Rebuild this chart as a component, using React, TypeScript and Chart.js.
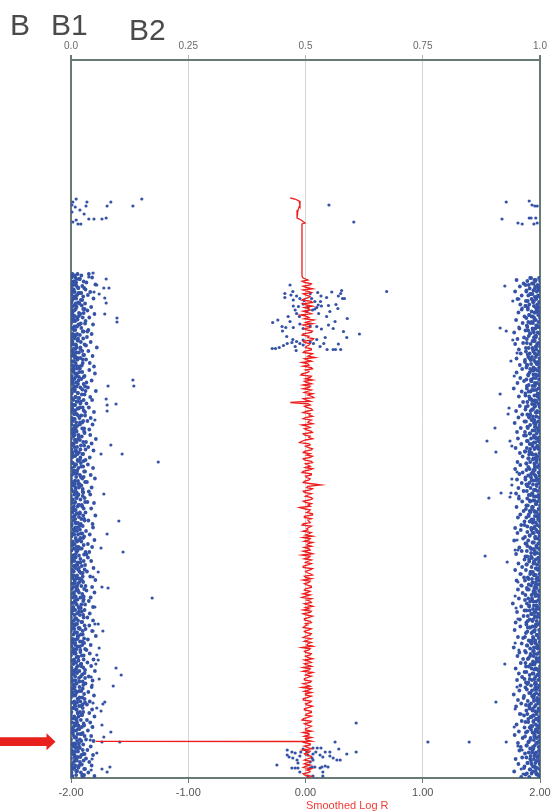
import React, { useEffect, useRef } from 'react';
import { Chart, registerables } from 'chart.js';

Chart.register(...registerables);

// ---- axis definitions ----
const POS_MAX = 143.6; // chromosome position (Mb), hidden vertical axis
const bafTicks = [0, 0.25, 0.5, 0.75, 1];
const bafTickLabels = ['0.0', '0.25', '0.5', '0.75', '1.0'];
const logRTicks = [-2, -1, 0, 1, 2];
const logRTickLabels = ['-2.00', '-1.00', '0.00', '1.00', '2.00'];
const panelLabels = ['B', 'B1', 'B2'];
const logRTitle = 'Smoothed Log R';

// ---- Smoothed Log R ----
// [position Mb, log R]
const logRTop: [number, number][] = [
  [27.6, -0.13], [27.8, -0.09], [28.2, -0.055], [29.0, -0.047], [30.0, -0.064], [31.0, -0.072],
  [31.6, -0.072], [32.0, -0.038], [32.6, -0.004], [32.8, -0.03], [43.2, -0.03], [43.6, -0.02],
];
// smoothing windows: series A from 44.00 Mb, series B from 44.25 Mb, both every 0.5 Mb
const logRWindowStep = 0.5;
const logRStartA = 44.0;
const logRStartB = 44.25;
const logRValuesA = [
  0.02, -0.01, 0.04, 0.01, -0.02, 0.05, 0.0, 0.03, -0.03, 0.06, 0.01, -0.01, 0.04, 0.02, -0.04, 0.03, 0.07, 0.0, -0.02, 0.04,
  0.01, 0.05, -0.03, 0.02, 0.06, -0.01, 0.03, 0.0, 0.05, -0.02, 0.04, 0.08, 0.01, -0.03, 0.03, 0.05, 0.0, 0.02, -0.04, 0.04,
  0.06, 0.01, -0.02, 0.03, 0.05, -0.01, 0.02, 0.07, 0.0, -0.13, 0.04, 0.01, 0.06, -0.02, 0.03, 0.0, 0.05, 0.02, -0.03, 0.04,
  0.01, 0.06, -0.01, 0.03, 0.0, -0.05, 0.04, 0.02, 0.05, -0.02, 0.01, 0.04, -0.01, 0.06, 0.02, 0.0, 0.03, -0.03, 0.05, 0.01,
  0.03, -0.02, 0.13, 0.01, 0.04, -0.01, 0.02, 0.05, 0.03, 0.0, 0.02, -0.05, 0.04, 0.01, 0.06, -0.01, 0.02, 0.04, -0.03, 0.03,
  0.02, 0.05, 0.0, -0.02, 0.03, 0.06, 0.01, -0.01, 0.04, 0.02, -0.03, 0.03, 0.05, 0.0, 0.02, -0.02, 0.04, 0.01, 0.06, 0.0,
  -0.02, 0.03, 0.01, 0.05, -0.01, 0.02, 0.04, -0.03, 0.01, 0.05, 0.02, 0.0, -0.02, 0.04, 0.01, 0.03, -0.01, 0.05, 0.02, -0.02,
  0.03, 0.0, 0.04, -0.02, 0.02, 0.05, 0.01, -0.03, 0.03, 0.0, 0.04, 0.02, -0.01, 0.05, 0.01, -0.02, 0.03, 0.06, 0.0, 0.02,
  -0.01, 0.04, 0.01, -0.03, 0.03, 0.05, 0.0, 0.02, -0.02, 0.04, 0.01, 0.03, -0.01, 0.05, 0.0, 0.02, -0.03, 0.04, 0.01, 0.03,
  0.0, -0.02, 0.03, 0.05, 0.01, -0.01, 0.04, 0.02, -0.02, 0.03, 0.0, 0.05, -0.01, 0.02, 0.04, -0.02, 0.01, 0.03, -0.01, 0.02,
];
const logRValuesB = [
  -0.03, 0.05, -0.02, 0.06, 0.02, -0.02, 0.04, -0.01, 0.05, -0.02, 0.06, 0.03, -0.02, 0.05, 0.01, -0.01, 0.03, 0.06, 0.02, -0.01,
  0.06, -0.02, 0.03, 0.07, -0.02, 0.04, 0.01, 0.05, -0.01, 0.06, 0.02, -0.01, 0.05, 0.02, -0.02, 0.06, 0.03, -0.03, 0.05, 0.0,
  -0.01, 0.05, 0.04, -0.02, 0.02, 0.06, 0.05, -0.02, 0.04, 0.02, -0.01, 0.05, 0.01, 0.04, 0.06, -0.02, 0.03, 0.06, 0.02, -0.01,
  0.05, -0.02, 0.04, 0.06, -0.03, 0.03, 0.0, 0.06, -0.01, 0.04, 0.06, -0.02, 0.05, 0.0, 0.04, 0.06, -0.02, 0.05, 0.0, 0.04,
  -0.01, 0.05, 0.02, 0.06, -0.02, 0.05, 0.0, 0.06, -0.02, 0.05, 0.04, -0.01, 0.03, 0.06, -0.01, 0.05, 0.03, -0.02, 0.05, 0.01,
  -0.02, 0.03, 0.06, 0.04, -0.01, 0.02, 0.05, 0.03, -0.02, 0.06, 0.04, -0.01, 0.02, 0.05, -0.02, 0.06, 0.0, 0.04, -0.01, 0.05,
  0.04, -0.01, 0.05, 0.0, 0.04, -0.02, 0.0, 0.05, 0.04, -0.01, 0.06, 0.03, 0.05, -0.02, 0.06, -0.01, 0.04, 0.0, -0.01, 0.05,
  -0.01, 0.05, 0.0, 0.05, -0.01, 0.02, 0.06, 0.04, -0.01, 0.05, 0.0, 0.06, 0.03, -0.01, 0.05, 0.04, -0.02, 0.02, 0.05, -0.01,
  0.05, -0.02, 0.04, 0.05, -0.01, 0.0, 0.05, -0.02, 0.05, 0.0, 0.06, -0.01, 0.05, 0.01, 0.05, -0.02, 0.05, -0.01, 0.05, 0.0,
  0.05, 0.03, -0.01, 0.0, 0.05, 0.04, -0.01, 0.05, 0.04, -0.01, 0.05, 0.02, 0.04, -0.01, 0.0, 0.05, 0.04, -0.02, 0.05, 0.0,
];
// deletion spike near the arrow
const logRSpike: [number, number][] = [
  [136.26, 0.0], [136.28, -1.79], [136.3, -0.02], [136.32, -0.55], [136.34, 0.01],
];

// ---- B allele frequency ----
// [position Mb, BAF]
const bafUpper: [number, number][] = [
  [27.8, 0.011], [28.4, 0.085], [27.8, 0.151], [28.4, 0.034], [29.2, 0.032], [29.2, 0.077], [29.2, 0.132],
  [30.0, 0.019], [30.8, 0.028], [29.4, 0.009], [28.4, 0.004], [31.8, 0.038], [31.8, 0.049], [31.8, 0.066],
  [31.6, 0.075], [32.0, 0.011], [32.4, 0.004], [32.8, 0.015], [32.8, 0.021], [29.0, 0.002], [30.4, 0.002],
  [29.0, 0.55], [32.4, 0.603],
  [28.4, 0.928], [28.2, 0.977], [29.0, 0.983], [29.2, 0.989], [29.2, 0.994], [31.8, 0.919], [31.6, 0.977],
  [31.6, 0.981], [31.6, 0.991], [32.6, 0.953], [32.8, 0.962], [32.8, 0.987], [32.6, 0.994],
];
const bafHetUpper: [number, number][] = [
  [45.0, 0.467], [46.3, 0.473], [46.7, 0.456], [47.5, 0.456], [47.0, 0.469], [48.0, 0.474], [47.2, 0.481],
  [47.7, 0.488], [48.1, 0.497], [46.7, 0.51], [46.5, 0.526], [47.2, 0.533], [47.5, 0.545], [46.4, 0.556],
  [46.1, 0.577], [46.7, 0.575], [47.2, 0.57], [47.7, 0.579], [47.7, 0.583], [46.3, 0.673], [48.9, 0.565],
  [49.7, 0.569], [49.1, 0.549], [48.3, 0.532], [49.0, 0.527], [49.5, 0.524], [49.2, 0.534], [49.8, 0.52],
  [48.8, 0.495], [49.3, 0.485], [49.2, 0.474], [50.0, 0.478], [50.7, 0.481], [51.3, 0.487], [50.3, 0.503],
  [50.0, 0.515], [50.7, 0.528], [51.3, 0.545], [52.3, 0.563], [51.7, 0.589], [51.3, 0.463], [52.0, 0.441],
  [52.5, 0.43], [53.3, 0.45], [53.5, 0.458], [54.2, 0.451], [53.5, 0.474], [52.8, 0.488], [53.7, 0.495],
  [53.2, 0.51], [53.3, 0.524], [53.8, 0.534], [53.0, 0.549], [54.3, 0.581], [54.8, 0.615], [55.5, 0.588],
  [55.5, 0.542], [55.9, 0.524], [56.4, 0.51], [56.0, 0.495], [56.3, 0.481], [55.9, 0.473], [56.7, 0.461],
  [57.1, 0.453], [57.5, 0.444], [57.7, 0.436], [57.7, 0.429], [57.3, 0.478], [58.1, 0.48], [57.0, 0.495],
  [56.7, 0.517], [57.3, 0.531], [56.7, 0.539], [57.9, 0.546], [57.9, 0.559], [57.9, 0.564], [57.9, 0.575],
  [56.8, 0.57], [56.7, 0.488], [56.5, 0.471], [47.7, 0.513], [48.3, 0.52], [49.3, 0.506], [50.3, 0.552],
  [52.3, 0.467], [53.7, 0.559], [55.3, 0.46],
];
const bafHetLower: [number, number][] = [
  [132.6, 0.608], [136.4, 0.563], [136.4, 0.761], [136.4, 0.849], [138.4, 0.608], [138.8, 0.588],
  [137.8, 0.571], [138.4, 0.552], [137.6, 0.533], [137.6, 0.525], [137.6, 0.516], [138.4, 0.542], [138.4, 0.522],
  [138.8, 0.516], [138.0, 0.461], [138.4, 0.471], [138.6, 0.478], [139.4, 0.465], [139.6, 0.473], [140.0, 0.482],
  [138.4, 0.49], [137.8, 0.495], [138.4, 0.503], [139.0, 0.505], [139.6, 0.514], [140.0, 0.516], [140.4, 0.51],
  [139.0, 0.531], [139.4, 0.537], [139.2, 0.552], [139.6, 0.559], [140.0, 0.567], [140.0, 0.574], [141.6, 0.471],
  [141.6, 0.478], [141.6, 0.484], [141.6, 0.51], [141.4, 0.514], [141.4, 0.52], [141.6, 0.531], [141.4, 0.535],
  [141.2, 0.542], [141.4, 0.548], [142.4, 0.537], [143.2, 0.537], [143.2, 0.516], [143.2, 0.505], [142.4, 0.488],
  [139.0, 0.461], [139.2, 0.488], [140.6, 0.484], [141.0, 0.439],
];
const bafLowOutliers: [number, number][] = [
  [42.6, 0.047], [43.8, 0.075], [43.4, 0.038], [45.0, 0.055], [45.6, 0.07], [45.6, 0.081], [46.4, 0.049],
  [46.8, 0.06], [47.6, 0.072], [48.6, 0.075], [50.8, 0.072], [51.6, 0.098], [52.4, 0.098], [64.0, 0.132],
  [65.2, 0.134], [65.2, 0.079], [67.8, 0.075], [68.8, 0.096], [69.0, 0.077], [70.2, 0.077], [72.0, 0.051],
  [77.0, 0.085], [78.8, 0.109], [78.8, 0.064], [80.4, 0.186], [86.8, 0.07], [92.2, 0.102], [94.8, 0.077],
  [98.4, 0.111], [97.6, 0.064], [105.4, 0.066], [105.6, 0.079], [107.6, 0.173], [102.4, 0.058], [103.4, 0.047],
  [109.4, 0.051], [112.8, 0.058], [112.8, 0.051], [114.2, 0.068], [114.2, 0.047], [117.6, 0.06], [119.0, 0.055],
  [120.0, 0.058], [120.8, 0.053], [121.6, 0.096], [123.0, 0.107], [123.8, 0.06], [123.4, 0.043], [125.2, 0.09],
  [125.0, 0.045], [128.4, 0.072], [128.8, 0.068], [129.6, 0.055], [130.2, 0.064], [128.6, 0.047], [133.0, 0.066],
  [134.4, 0.085], [135.4, 0.07], [133.4, 0.045], [136.0, 0.041], [136.4, 0.066], [136.4, 0.104], [138.6, 0.055],
  [139.8, 0.045], [141.4, 0.083], [141.8, 0.066], [142.4, 0.077], [142.0, 0.043], [143.4, 0.026],
];
const bafHighOutliers: [number, number][] = [
  [45.2, 0.925], [48.2, 0.942], [47.8, 0.955], [49.6, 0.962], [53.6, 0.915], [54.2, 0.928], [56.0, 0.942],
  [53.4, 0.955], [60.2, 0.938], [58.6, 0.951], [63.2, 0.945], [66.8, 0.915], [69.6, 0.934], [70.8, 0.932],
  [73.6, 0.904], [76.2, 0.887], [78.4, 0.906], [76.2, 0.936], [77.2, 0.94], [82.4, 0.951], [83.8, 0.94],
  [85.0, 0.94], [86.6, 0.938], [86.6, 0.917], [87.6, 0.891], [87.4, 0.936], [87.2, 0.955], [96.0, 0.951],
  [98.0, 0.947], [98.0, 0.953], [99.2, 0.883], [100.4, 0.93], [102.8, 0.96], [104.4, 0.953], [105.2, 0.962],
  [107.2, 0.947], [109.6, 0.949], [111.8, 0.953], [116.6, 0.947], [118.0, 0.955], [120.8, 0.925], [123.4, 0.962],
  [125.4, 0.951], [128.4, 0.906], [129.8, 0.947], [130.8, 0.96], [133.4, 0.945], [136.4, 0.928], [137.2, 0.953],
  [138.0, 0.962], [141.8, 0.96], [142.8, 0.964],
];

// homozygous AA band: probe positions and BAF (per-mille) of three neighbouring probes at each
const bandLowPos = [
  42.8, 43.1, 43.5, 43.8, 44.3, 44.5, 44.9, 45.2, 45.6, 45.9, 46.4, 46.6, 47.0, 47.3, 47.7, 48.0, 48.5, 48.7,
  49.1, 49.4, 49.8, 50.1, 50.6, 50.8, 51.2, 51.5, 51.9, 52.2, 52.7, 52.9, 53.3, 53.6, 54.0, 54.3, 54.8, 55.0,
  55.4, 55.7, 56.1, 56.4, 56.9, 57.1, 57.5, 57.8, 58.2, 58.5, 59.0, 59.2, 59.6, 59.9, 60.3, 60.6, 61.1, 61.3,
  61.7, 62.0, 62.4, 62.7, 63.2, 63.4, 63.8, 64.1, 64.5, 64.8, 65.3, 65.5, 65.9, 66.2, 66.6, 66.9, 67.4, 67.6,
  68.0, 68.3, 68.7, 69.0, 69.5, 69.7, 70.1, 70.4, 70.8, 71.1, 71.6, 71.8, 72.2, 72.5, 72.9, 73.2, 73.7, 73.9,
  74.3, 74.6, 75.0, 75.3, 75.8, 76.0, 76.4, 76.7, 77.1, 77.4, 77.9, 78.1, 78.5, 78.8, 79.2, 79.5, 80.0, 80.2,
  80.6, 80.9, 81.3, 81.6, 82.1, 82.3, 82.7, 83.0, 83.4, 83.7, 84.2, 84.4, 84.8, 85.1, 85.5, 85.8, 86.3, 86.5,
  86.9, 87.2, 87.6, 87.9, 88.4, 88.6, 89.0, 89.3, 89.7, 90.0, 90.5, 90.7, 91.1, 91.4, 91.8, 92.1, 92.6, 92.8,
  93.2, 93.5, 93.9, 94.2, 94.7, 94.9, 95.3, 95.6, 96.0, 96.3, 96.8, 97.0, 97.4, 97.7, 98.1, 98.4, 98.9, 99.1,
  99.5, 99.8, 100.2, 100.5, 101.0, 101.2, 101.6, 101.9, 102.3, 102.6, 103.1, 103.3, 103.7, 104.0, 104.4, 104.7, 105.2, 105.4,
  105.8, 106.1, 106.5, 106.8, 107.3, 107.5, 107.9, 108.2, 108.6, 108.9, 109.4, 109.6, 110.0, 110.3, 110.7, 111.0, 111.5, 111.7,
  112.1, 112.4, 112.8, 113.1, 113.6, 113.8, 114.2, 114.5, 114.9, 115.2, 115.7, 115.9, 116.3, 116.6, 117.0, 117.3, 117.8, 118.0,
  118.4, 118.7, 119.1, 119.4, 119.9, 120.1, 120.5, 120.8, 121.2, 121.5, 122.0, 122.2, 122.6, 122.9, 123.3, 123.6, 124.1, 124.3,
  124.7, 125.0, 125.4, 125.7, 126.2, 126.4, 126.8, 127.1, 127.5, 127.8, 128.3, 128.5, 128.9, 129.2, 129.6, 129.9, 130.4, 130.6,
  131.0, 131.3, 131.7, 132.0, 132.5, 132.7, 133.1, 133.4, 133.8, 134.1, 134.6, 134.8, 135.2, 135.5, 135.9, 136.2, 136.7, 136.9,
  137.3, 137.6, 138.0, 138.3, 138.8, 139.0, 139.4, 139.7, 140.1, 140.4, 140.9, 141.1, 141.5, 141.8, 142.2, 142.5, 143.0, 143.2,
];
const bandLowBafA = [
  3, 8, 1, 12, 5, 0, 9, 2, 15, 6, 4, 22, 1, 7, 11, 3, 0, 18,
  6, 2, 10, 4, 27, 1, 8, 13, 3, 5, 0, 16, 7, 2, 9, 35, 4, 11,
  1, 7, 14, 3, 6, 0, 20, 9, 2, 12, 5, 1, 8, 25, 4, 10, 3, 6,
  13, 0, 5, 9, 2, 17, 7, 1, 11, 4, 30, 6, 3, 8, 14, 0, 10, 2,
  5, 12, 1, 7, 19, 3, 9, 0, 6, 15, 2, 8, 4, 24, 1, 11, 6, 3,
  9, 2, 16, 5, 0, 8, 12, 3, 28, 7, 1, 10, 4, 14, 6, 2, 19, 0,
  4, 11, 7, 1, 13, 5, 9, 2, 21, 0, 8, 3, 15, 6, 10, 1, 5, 26,
  7, 0, 12, 4, 9, 2, 17, 6, 1, 10, 3, 14, 8, 0, 22, 5, 11, 2,
  1, 9, 5, 13, 3, 7, 0, 20, 11, 4, 8, 2, 16, 6, 1, 12, 33, 4,
  10, 3, 7, 1, 14, 5, 9, 2, 18, 0, 6, 11, 4, 23, 8, 2, 13, 5,
  2, 15, 6, 0, 10, 4, 27, 8, 1, 12, 5, 3, 9, 17, 2, 7, 0, 11,
  6, 1, 13, 8, 3, 19, 0, 10, 5, 14, 2, 7, 24, 4, 9, 1, 12, 6,
  3, 10, 0, 16, 7, 2, 11, 5, 21, 1, 8, 4, 13, 0, 9, 30, 6, 2,
  12, 5, 8, 1, 18, 3, 10, 6, 0, 14, 7, 2, 25, 9, 4, 11, 1, 15,
  0, 7, 4, 12, 2, 9, 16, 5, 1, 11, 3, 20, 6, 8, 0, 13, 4, 10,
  5, 14, 1, 9, 3, 22, 7, 0, 12, 6, 2, 17, 8, 4, 11, 1, 28, 3,
];
const bandLowBafB = [
  14, 22, 9, 18, 27, 11, 6, 24, 16, 31, 8, 19, 13, 26, 5, 21, 15, 10,
  23, 12, 29, 7, 17, 20, 4, 25, 14, 9, 30, 18, 11, 22, 6, 27, 13, 19,
  8, 26, 15, 21, 10, 32, 12, 5, 24, 17, 28, 9, 20, 14, 7, 25, 11, 18,
  19, 6, 24, 13, 29, 10, 22, 16, 4, 27, 12, 20, 8, 31, 15, 23, 9, 17,
  27, 14, 20, 9, 25, 16, 5, 30, 12, 22, 18, 7, 26, 11, 19, 13, 28, 10,
  12, 29, 8, 23, 15, 19, 26, 6, 21, 13, 31, 10, 17, 24, 9, 20, 14, 27,
  21, 9, 26, 16, 6, 28, 13, 19, 11, 24, 15, 30, 7, 22, 17, 10, 25, 12,
  16, 25, 11, 20, 30, 8, 23, 14, 27, 6, 19, 12, 26, 17, 9, 29, 15, 21,
  25, 13, 19, 7, 24, 15, 28, 10, 18, 22, 5, 27, 12, 20, 14, 31, 9, 17,
  9, 20, 27, 14, 11, 23, 17, 29, 6, 21, 13, 25, 18, 8, 26, 15, 22, 11,
  28, 11, 17, 24, 8, 20, 14, 26, 10, 30, 16, 21, 6, 23, 13, 19, 27, 9,
  15, 24, 10, 29, 18, 7, 25, 13, 21, 16, 28, 11, 19, 9, 24, 14, 30, 20,
  20, 7, 23, 12, 27, 16, 9, 22, 14, 26, 11, 18, 29, 5, 21, 17, 10, 25,
  11, 26, 18, 6, 22, 13, 28, 9, 24, 15, 20, 30, 8, 17, 25, 12, 19, 14,
  24, 16, 8, 21, 13, 27, 10, 23, 18, 6, 25, 14, 29, 11, 19, 22, 7, 26,
  17, 10, 25, 15, 29, 8, 20, 12, 27, 19, 23, 9, 16, 28, 13, 21, 11, 24,
];
const bandLowBafC = [
  38, 2, 45, 19, 7, 33, 52, 12, 28, 4, 41, 16, 36, 9, 48, 24, 1, 30,
  10, 43, 26, 35, 3, 50, 17, 39, 6, 31, 21, 47, 13, 2, 37, 25, 44, 8,
  34, 15, 1, 42, 29, 11, 55, 20, 37, 5, 26, 46, 14, 32, 3, 40, 23, 49,
  6, 39, 18, 51, 12, 27, 3, 44, 33, 15, 8, 36, 24, 53, 2, 29, 41, 17,
  45, 21, 33, 4, 38, 14, 27, 49, 9, 30, 42, 1, 35, 19, 46, 7, 24, 39,
  28, 5, 41, 17, 53, 10, 32, 44, 2, 37, 20, 48, 12, 26, 3, 40, 31, 15,
  3, 36, 22, 47, 13, 30, 6, 42, 27, 51, 9, 34, 18, 1, 44, 25, 38, 11,
  41, 14, 29, 2, 35, 49, 16, 24, 43, 8, 31, 19, 52, 5, 28, 37, 10, 46,
  18, 47, 7, 32, 21, 40, 1, 26, 50, 13, 36, 4, 45, 23, 11, 39, 28, 6,
  36, 2, 43, 20, 30, 9, 48, 15, 34, 25, 3, 41, 12, 52, 18, 7, 31, 45,
  13, 33, 50, 6, 27, 42, 11, 38, 4, 22, 47, 17, 29, 1, 40, 26, 35, 10,
  47, 22, 3, 39, 16, 31, 45, 8, 25, 53, 14, 36, 2, 28, 42, 19, 6, 33,
  9, 40, 27, 14, 48, 4, 35, 21, 43, 12, 30, 51, 7, 24, 38, 1, 46, 18,
  31, 6, 44, 25, 10, 37, 2, 49, 18, 29, 40, 13, 34, 21, 5, 45, 26, 39,
  22, 50, 11, 34, 41, 7, 28, 46, 15, 36, 4, 23, 43, 10, 32, 48, 17, 2,
  42, 19, 35, 5, 26, 47, 14, 32, 8, 39, 21, 44, 1, 30, 12, 37, 24, 50,
];
// homozygous BB band: probe positions and BAF (per-mille) of three neighbouring probes at each
const bandHighPos = [
  43.6, 44.0, 44.2, 44.7, 45.0, 45.3, 45.7, 46.1, 46.3, 46.8, 47.1, 47.4, 47.8, 48.2, 48.4, 48.9, 49.2, 49.5,
  49.9, 50.3, 50.5, 51.0, 51.3, 51.6, 52.0, 52.4, 52.6, 53.1, 53.4, 53.7, 54.1, 54.5, 54.7, 55.2, 55.5, 55.8,
  56.2, 56.6, 56.8, 57.3, 57.6, 57.9, 58.3, 58.7, 58.9, 59.4, 59.7, 60.0, 60.4, 60.8, 61.0, 61.5, 61.8, 62.1,
  62.5, 62.9, 63.1, 63.6, 63.9, 64.2, 64.6, 65.0, 65.2, 65.7, 66.0, 66.3, 66.7, 67.1, 67.3, 67.8, 68.1, 68.4,
  68.8, 69.2, 69.4, 69.9, 70.2, 70.5, 70.9, 71.3, 71.5, 72.0, 72.3, 72.6, 73.0, 73.4, 73.6, 74.1, 74.4, 74.7,
  75.1, 75.5, 75.7, 76.2, 76.5, 76.8, 77.2, 77.6, 77.8, 78.3, 78.6, 78.9, 79.3, 79.7, 79.9, 80.4, 80.7, 81.0,
  81.4, 81.8, 82.0, 82.5, 82.8, 83.1, 83.5, 83.9, 84.1, 84.6, 84.9, 85.2, 85.6, 86.0, 86.2, 86.7, 87.0, 87.3,
  87.7, 88.1, 88.3, 88.8, 89.1, 89.4, 89.8, 90.2, 90.4, 90.9, 91.2, 91.5, 91.9, 92.3, 92.5, 93.0, 93.3, 93.6,
  94.0, 94.4, 94.6, 95.1, 95.4, 95.7, 96.1, 96.5, 96.7, 97.2, 97.5, 97.8, 98.2, 98.6, 98.8, 99.3, 99.6, 99.9,
  100.3, 100.7, 100.9, 101.4, 101.7, 102.0, 102.4, 102.8, 103.0, 103.5, 103.8, 104.1, 104.5, 104.9, 105.1, 105.6, 105.9, 106.2,
  106.6, 107.0, 107.2, 107.7, 108.0, 108.3, 108.7, 109.1, 109.3, 109.8, 110.1, 110.4, 110.8, 111.2, 111.4, 111.9, 112.2, 112.5,
  112.9, 113.3, 113.5, 114.0, 114.3, 114.6, 115.0, 115.4, 115.6, 116.1, 116.4, 116.7, 117.1, 117.5, 117.7, 118.2, 118.5, 118.8,
  119.2, 119.6, 119.8, 120.3, 120.6, 120.9, 121.3, 121.7, 121.9, 122.4, 122.7, 123.0, 123.4, 123.8, 124.0, 124.5, 124.8, 125.1,
  125.5, 125.9, 126.1, 126.6, 126.9, 127.2, 127.6, 128.0, 128.2, 128.7, 129.0, 129.3, 129.7, 130.1, 130.3, 130.8, 131.1, 131.4,
  131.8, 132.2, 132.4, 132.9, 133.2, 133.5, 133.9, 134.3, 134.5, 135.0, 135.3, 135.6, 136.0, 136.4, 136.6, 137.1, 137.4, 137.7,
  138.1, 138.5, 138.7, 139.2, 139.5, 139.8, 140.2, 140.6, 140.8, 141.3, 141.6, 141.9, 142.3, 142.7, 142.9, 143.4,
];
const bandHighBafA = [
  998, 991, 1000, 986, 995, 997, 989, 999, 993, 980, 996, 1000, 992, 987, 998, 994, 969, 997,
  993, 999, 988, 996, 982, 1000, 991, 997, 985, 994, 998, 990, 975, 995, 999, 992, 987, 1000,
  989, 997, 994, 1000, 984, 992, 998, 978, 995, 991, 999, 987, 996, 993, 972, 998, 990, 995,
  1000, 986, 996, 991, 998, 981, 994, 999, 989, 997, 992, 976, 1000, 988, 995, 998, 983, 993,
  997, 990, 999, 985, 994, 1000, 979, 992, 998, 988, 996, 991, 999, 974, 995, 989, 1000, 993,
  987, 998, 992, 996, 1000, 983, 994, 990, 997, 977, 999, 991, 995, 986, 1000, 993, 988, 998,
  994, 1000, 989, 997, 981, 999, 992, 996, 986, 998, 971, 993, 1000, 990, 995, 984, 997, 991,
  999, 988, 995, 992, 1000, 985, 997, 978, 993, 998, 989, 996, 982, 1000, 991, 994, 999, 987,
  992, 997, 984, 999, 990, 995, 1000, 987, 996, 973, 993, 998, 989, 994, 1000, 981, 997, 991,
  998, 986, 994, 1000, 991, 996, 980, 999, 988, 995, 992, 997, 984, 1000, 990, 993, 976, 998,
  990, 995, 999, 983, 997, 992, 1000, 987, 994, 998, 978, 991, 996, 989, 999, 985, 993, 1000,
  996, 991, 974, 998, 988, 1000, 993, 985, 997, 990, 999, 982, 995, 992, 1000, 987, 998, 994,
  986, 999, 993, 997, 989, 980, 1000, 991, 995, 998, 984, 994, 1000, 988, 996, 970, 992, 999,
  995, 989, 1000, 992, 998, 983, 994, 999, 987, 996, 991, 977, 997, 1000, 990, 993, 985, 998,
  991, 997, 986, 1000, 994, 999, 981, 990, 996, 988, 998, 993, 1000, 975, 995, 989, 997, 984,
  998, 992, 1000, 988, 995, 979, 997, 990, 999, 985, 994, 1000, 991, 982, 996, 998,
];
const bandHighBafB = [
  981, 988, 973, 983, 969, 990, 978, 986, 971, 979, 975, 989, 982, 970, 985, 977, 987, 974,
  974, 982, 990, 977, 985, 971, 988, 975, 980, 992, 973, 984, 969, 987, 979, 976, 991, 972,
  987, 972, 980, 992, 976, 985, 970, 989, 974, 983, 978, 968, 990, 981, 973, 986, 979, 984,
  978, 991, 975, 986, 971, 982, 989, 976, 984, 972, 987, 980, 969, 993, 977, 981, 988, 973,
  983, 974, 988, 969, 980, 991, 973, 985, 977, 982, 970, 987, 979, 989, 974, 984, 968, 978,
  970, 987, 981, 974, 990, 978, 984, 972, 988, 968, 982, 977, 992, 975, 985, 979, 971, 989,
  989, 978, 971, 984, 987, 975, 981, 969, 992, 977, 985, 973, 980, 990, 972, 983, 976, 987,
  973, 985, 979, 991, 974, 983, 970, 988, 980, 976, 993, 971, 986, 978, 984, 967, 989, 981,
  982, 973, 987, 978, 968, 990, 975, 984, 971, 992, 979, 986, 972, 981, 989, 969, 983, 977,
  977, 989, 972, 982, 992, 970, 985, 979, 987, 974, 983, 968, 991, 976, 981, 988, 973, 986,
  986, 969, 990, 975, 983, 979, 972, 992, 977, 985, 967, 988, 981, 974, 989, 978, 984, 971,
  971, 984, 978, 989, 973, 982, 993, 968, 986, 976, 980, 991, 972, 987, 979, 985, 970, 988,
  979, 992, 974, 985, 969, 988, 976, 982, 994, 971, 986, 978, 990, 967, 983, 975, 989, 981,
  990, 972, 983, 977, 988, 966, 986, 993, 974, 981, 970, 989, 978, 984, 991, 973, 987, 980,
  975, 986, 969, 991, 981, 978, 994, 973, 984, 989, 968, 980, 987, 976, 992, 971, 985, 979,
  984, 976, 989, 980, 971, 987, 992, 974, 982, 967, 990, 979, 985, 972, 993, 977,
];
const bandHighBafC = [
  979, 950, 990, 965, 976, 957, 996, 971, 947, 984, 961, 993, 952, 974, 986, 958, 969, 991,
  961, 995, 954, 977, 967, 988, 949, 982, 963, 972, 994, 956, 985, 945, 979, 990, 966, 952,
  984, 964, 947, 991, 970, 955, 986, 959, 993, 975, 950, 980, 968, 996, 957, 971, 962, 987,
  950, 975, 994, 958, 981, 966, 952, 989, 972, 944, 983, 961, 995, 969, 955, 978, 991, 964,
  988, 957, 970, 983, 949, 993, 962, 976, 954, 985, 967, 946, 990, 973, 959, 996, 951, 979,
  966, 991, 953, 972, 987, 960, 995, 948, 979, 968, 957, 984, 963, 976, 992, 952, 971, 958,
  975, 947, 986, 963, 956, 990, 969, 951, 982, 961, 993, 974, 954, 987, 965, 949, 980, 995,
  955, 978, 962, 992, 971, 950, 983, 965, 989, 958, 976, 953, 996, 967, 985, 960, 973, 947,
  959, 995, 952, 978, 990, 964, 945, 985, 969, 993, 956, 981, 961, 988, 949, 973, 996, 967,
  987, 954, 971, 962, 994, 947, 980, 958, 991, 966, 976, 950, 984, 995, 960, 972, 953, 989,
  963, 982, 996, 955, 968, 986, 942, 977, 960, 992, 971, 951, 983, 965, 994, 957, 974, 948,
  991, 958, 979, 946, 985, 970, 994, 953, 964, 982, 989, 961, 973, 944, 995, 968, 956, 980,
  952, 976, 964, 993, 959, 983, 970, 948, 988, 967, 955, 996, 962, 978, 951, 990, 973, 958,
  969, 992, 956, 980, 944, 987, 965, 953, 995, 960, 977, 949, 985, 971, 994, 957, 966, 982,
  994, 961, 975, 950, 984, 967, 991, 955, 970, 946, 988, 963, 979, 996, 953, 972, 959, 986,
  956, 983, 968, 995, 962, 948, 981, 973, 954, 989, 966, 978, 945, 992, 969, 960,
];

const AXIS_COLOR = '#677a74';
const GRID_COLOR = '#d4d4d4';
const POINT_COLOR = '#3553a6';
const FONT = "'Liberation Sans', Arial, sans-serif";

export default function App() {
  const ref = useRef<HTMLCanvasElement | null>(null);

  useEffect(() => {
    const canvas = ref.current;
    if (!canvas) return;
    const toXY = (pairs: [number, number][]) => pairs.map(([p, v]) => ({ x: v, y: p }));
    const band = (pos: number[], permille: number[]) =>
      pos.map((p, i) => ({ x: permille[i] / 1000, y: p }));
    const bandPoints = [
      ...band(bandLowPos, bandLowBafA),
      ...band(bandLowPos, bandLowBafB),
      ...band(bandLowPos, bandLowBafC),
      ...band(bandHighPos, bandHighBafA),
      ...band(bandHighPos, bandHighBafB),
      ...band(bandHighPos, bandHighBafC),
    ];
    const otherPoints = [
      ...toXY(bafUpper),
      ...toXY(bafHetUpper),
      ...toXY(bafHetLower),
      ...toXY(bafLowOutliers),
      ...toXY(bafHighOutliers),
    ];
    const windowsA: [number, number][] = logRValuesA.map((v, i) => [logRStartA + i * logRWindowStep, v]);
    const windowsB: [number, number][] = logRValuesB.map((v, i) => [logRStartB + i * logRWindowStep, v]);
    const logRAll = [...logRTop, ...windowsA, ...windowsB, ...logRSpike]
      .sort((a, b) => a[0] - b[0])
      .map(([p, v]) => ({ x: v, y: p }));

    const isEdge = (c: any) => c.tick && (c.tick.value === 0 || c.tick.value === 1);

    const chart = new Chart(canvas, {
      type: 'scatter',
      data: {
        datasets: [
          {
            label: logRTitle,
            data: logRAll,
            xAxisID: 'xLogR',
            yAxisID: 'y',
            showLine: true,
            borderColor: '#ee1c1c',
            borderWidth: 1.3,
            pointRadius: 0,
            order: 0,
          } as any,
          {
            label: 'B Allele Freq',
            data: otherPoints,
            xAxisID: 'xBaf',
            yAxisID: 'y',
            showLine: false,
            backgroundColor: POINT_COLOR,
            borderWidth: 0,
            pointRadius: 1.6,
            order: 1,
          } as any,
          {
            label: 'B Allele Freq (homozygous)',
            data: bandPoints,
            xAxisID: 'xBaf',
            yAxisID: 'y',
            showLine: false,
            backgroundColor: POINT_COLOR,
            borderWidth: 0,
            pointRadius: 1.9,
            order: 2,
          } as any,
        ],
      },
      options: {
        animation: false,
        responsive: false,
        maintainAspectRatio: false,
        layout: { padding: { left: 71, right: 12, top: 0, bottom: 0 } },
        plugins: { legend: { display: false }, tooltip: { enabled: false } },
        scales: {
          y: { type: 'linear', min: 0, max: POS_MAX, reverse: true, display: false },
          xBaf: {
            type: 'linear',
            position: 'top',
            min: 0,
            max: 1,
            afterBuildTicks: (s: any) => {
              s.ticks = bafTicks.map((v) => ({ value: v }));
            },
            afterFit: (s: any) => {
              s.height = 60;
              s.paddingLeft = 0;
              s.paddingRight = 0;
            },
            ticks: {
              callback: (_v: any, i: number) => bafTickLabels[i] ?? '',
              color: '#6a6a6a',
              font: { family: FONT, size: 10 },
              padding: 3,
              maxRotation: 0,
              autoSkip: false,
            },
            grid: {
              color: (c: any) => (isEdge(c) ? AXIS_COLOR : GRID_COLOR),
              lineWidth: (c: any) => (isEdge(c) ? 2 : 1),
              tickColor: (c: any) => (isEdge(c) ? AXIS_COLOR : '#b8b8b8'),
              tickLength: 5,
            },
            border: { display: true, color: AXIS_COLOR, width: 2 },
          } as any,
          xLogR: {
            type: 'linear',
            position: 'bottom',
            min: -2,
            max: 2,
            afterBuildTicks: (s: any) => {
              s.ticks = logRTicks.map((v) => ({ value: v }));
            },
            afterFit: (s: any) => {
              s.height = 33;
              s.paddingLeft = 0;
              s.paddingRight = 0;
            },
            ticks: {
              callback: (_v: any, i: number) => logRTickLabels[i] ?? '',
              color: '#555555',
              font: { family: FONT, size: 11 },
              padding: 3,
              maxRotation: 0,
              autoSkip: false,
            },
            grid: { drawOnChartArea: false, tickColor: AXIS_COLOR, tickLength: 5 },
            border: { display: true, color: AXIS_COLOR, width: 2 },
          } as any,
        },
      },
    });
    return () => chart.destroy();
  }, []);

  const labelStyle = (left: number, top: number): React.CSSProperties => ({
    position: 'absolute',
    left,
    top,
    fontFamily: FONT,
    fontSize: 30,
    lineHeight: '30px',
    color: '#4a4a4a',
    whiteSpace: 'nowrap',
  });

  return (
    <div style={{ position: 'absolute', left: 0, top: 0, width: 552, height: 811, background: '#fff' }}>
      <canvas ref={ref} width={552} height={811} style={{ display: 'block' }} />
      <div style={labelStyle(10, 10)}>{panelLabels[0]}</div>
      <div style={labelStyle(51, 10)}>{panelLabels[1]}</div>
      <div style={labelStyle(129, 15)}>{panelLabels[2]}</div>
      <svg
        width={58}
        height={24}
        style={{ position: 'absolute', left: 0, top: 730 }}
        viewBox="0 0 58 24"
      >
        <polygon points="0,7.3 46.5,7.3 46.5,3.3 55.5,11.7 46.5,20.2 46.5,16 0,16" fill="#e8211c" />
      </svg>
      <div
        style={{
          position: 'absolute',
          left: 306,
          top: 799,
          fontFamily: FONT,
          fontSize: 11,
          lineHeight: '13px',
          color: '#f03a36',
          whiteSpace: 'nowrap',
        }}
      >
        {logRTitle}
      </div>
    </div>
  );
}
